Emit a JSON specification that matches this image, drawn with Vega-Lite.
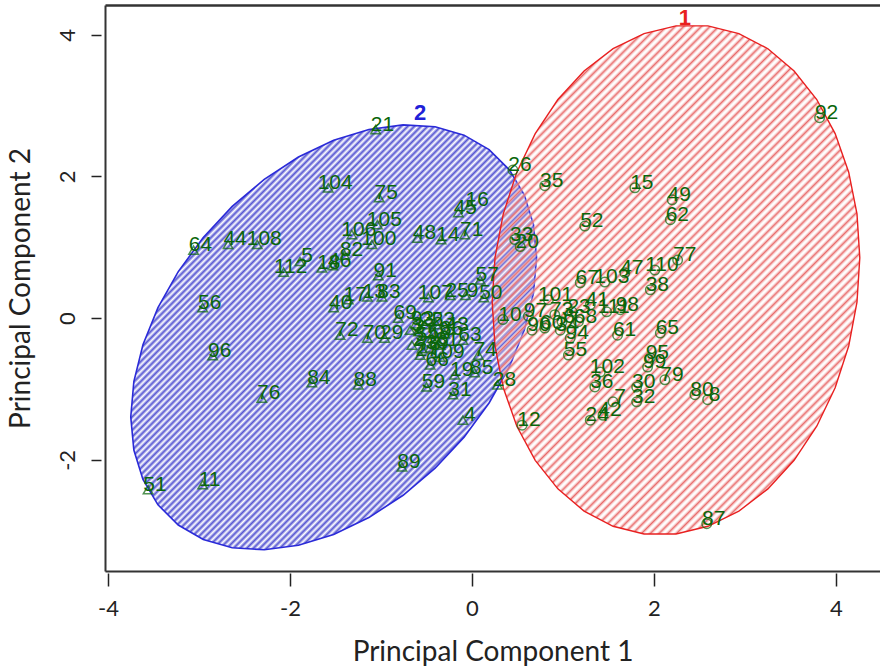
{
  "$schema": "https://vega.github.io/schema/vega-lite/v6.json",
  "width": 775,
  "height": 566,
  "autosize": "none",
  "padding": {"left": 105, "top": 5, "right": 0, "bottom": 99},
  "background": "white",
  "config": {"view": {"stroke": null}},
  "datasets": {
    "ell": [
      {"cl":"2","i":0,"x":0.71,"y":0.854},{"cl":"2","i":1,"x":0.676,"y":1.32},{"cl":"2","i":2,"x":0.576,"y":1.737},{"cl":"2","i":3,"x":0.411,"y":2.094},{"cl":"2","i":4,"x":0.188,"y":2.379},{"cl":"2","i":5,"x":-0.087,"y":2.583},{"cl":"2","i":6,"x":-0.405,"y":2.701},{"cl":"2","i":7,"x":-0.757,"y":2.728},{"cl":"2","i":8,"x":-1.133,"y":2.664},{"cl":"2","i":9,"x":-1.52,"y":2.512},{"cl":"2","i":10,"x":-1.907,"y":2.274},{"cl":"2","i":11,"x":-2.283,"y":1.959},{"cl":"2","i":12,"x":-2.635,"y":1.577},{"cl":"2","i":13,"x":-2.953,"y":1.139},{"cl":"2","i":14,"x":-3.228,"y":0.657},{"cl":"2","i":15,"x":-3.451,"y":0.148},{"cl":"2","i":16,"x":-3.616,"y":-0.375},{"cl":"2","i":17,"x":-3.716,"y":-0.894},{"cl":"2","i":18,"x":-3.75,"y":-1.394},{"cl":"2","i":19,"x":-3.716,"y":-1.86},{"cl":"2","i":20,"x":-3.616,"y":-2.277},{"cl":"2","i":21,"x":-3.451,"y":-2.634},{"cl":"2","i":22,"x":-3.228,"y":-2.919},{"cl":"2","i":23,"x":-2.953,"y":-3.123},{"cl":"2","i":24,"x":-2.635,"y":-3.241},{"cl":"2","i":25,"x":-2.283,"y":-3.268},{"cl":"2","i":26,"x":-1.907,"y":-3.204},{"cl":"2","i":27,"x":-1.52,"y":-3.052},{"cl":"2","i":28,"x":-1.133,"y":-2.814},{"cl":"2","i":29,"x":-0.757,"y":-2.499},{"cl":"2","i":30,"x":-0.405,"y":-2.117},{"cl":"2","i":31,"x":-0.087,"y":-1.679},{"cl":"2","i":32,"x":0.188,"y":-1.197},{"cl":"2","i":33,"x":0.411,"y":-0.688},{"cl":"2","i":34,"x":0.576,"y":-0.165},{"cl":"2","i":35,"x":0.676,"y":0.354},
      {"cl":"1","i":0,"x":4.262,"y":0.854},{"cl":"1","i":1,"x":4.231,"y":1.472},{"cl":"1","i":2,"x":4.14,"y":2.061},{"cl":"1","i":3,"x":3.991,"y":2.605},{"cl":"1","i":4,"x":3.789,"y":3.086},{"cl":"1","i":5,"x":3.54,"y":3.489},{"cl":"1","i":6,"x":3.252,"y":3.803},{"cl":"1","i":7,"x":2.933,"y":4.017},{"cl":"1","i":8,"x":2.593,"y":4.126},{"cl":"1","i":9,"x":2.242,"y":4.126},{"cl":"1","i":10,"x":1.891,"y":4.017},{"cl":"1","i":11,"x":1.551,"y":3.803},{"cl":"1","i":12,"x":1.232,"y":3.489},{"cl":"1","i":13,"x":0.944,"y":3.086},{"cl":"1","i":14,"x":0.695,"y":2.605},{"cl":"1","i":15,"x":0.493,"y":2.061},{"cl":"1","i":16,"x":0.344,"y":1.472},{"cl":"1","i":17,"x":0.253,"y":0.854},{"cl":"1","i":18,"x":0.222,"y":0.226},{"cl":"1","i":19,"x":0.253,"y":-0.392},{"cl":"1","i":20,"x":0.344,"y":-0.981},{"cl":"1","i":21,"x":0.493,"y":-1.525},{"cl":"1","i":22,"x":0.695,"y":-2.006},{"cl":"1","i":23,"x":0.944,"y":-2.409},{"cl":"1","i":24,"x":1.232,"y":-2.723},{"cl":"1","i":25,"x":1.551,"y":-2.937},{"cl":"1","i":26,"x":1.891,"y":-3.046},{"cl":"1","i":27,"x":2.242,"y":-3.046},{"cl":"1","i":28,"x":2.593,"y":-2.937},{"cl":"1","i":29,"x":2.933,"y":-2.723},{"cl":"1","i":30,"x":3.252,"y":-2.409},{"cl":"1","i":31,"x":3.54,"y":-2.006},{"cl":"1","i":32,"x":3.789,"y":-1.525},{"cl":"1","i":33,"x":3.991,"y":-0.981},{"cl":"1","i":34,"x":4.14,"y":-0.392},{"cl":"1","i":35,"x":4.231,"y":0.226}
    ],
    "pts": [
      {"id":"21","cl":"2","x":-1.06,"y":2.66},{"id":"104","cl":"2","x":-1.58,"y":1.84},{"id":"75","cl":"2","x":-1.02,"y":1.7},{"id":"64","cl":"2","x":-3.06,"y":0.96},{"id":"44","cl":"2","x":-2.68,"y":1.04},{"id":"108","cl":"2","x":-2.36,"y":1.04},{"id":"112","cl":"2","x":-2.07,"y":0.65},{"id":"5","cl":"2","x":-1.89,"y":0.8},{"id":"18","cl":"2","x":-1.65,"y":0.71},{"id":"46","cl":"2","x":-1.53,"y":0.74},{"id":"82","cl":"2","x":-1.4,"y":0.89},{"id":"106","cl":"2","x":-1.32,"y":1.18},{"id":"105","cl":"2","x":-1.04,"y":1.32},{"id":"100","cl":"2","x":-1.1,"y":1.04},{"id":"48","cl":"2","x":-0.6,"y":1.13},{"id":"14","cl":"2","x":-0.34,"y":1.11},{"id":"71","cl":"2","x":-0.08,"y":1.18},{"id":"45","cl":"2","x":-0.15,"y":1.49},{"id":"16","cl":"2","x":-0.02,"y":1.6},{"id":"91","cl":"2","x":-1.03,"y":0.6},{"id":"40","cl":"2","x":-1.52,"y":0.15},{"id":"17","cl":"2","x":-1.36,"y":0.26},{"id":"13","cl":"2","x":-1.15,"y":0.3},{"id":"83","cl":"2","x":-0.99,"y":0.3},{"id":"107","cl":"2","x":-0.48,"y":0.29},{"id":"25","cl":"2","x":-0.24,"y":0.32},{"id":"9","cl":"2","x":-0.07,"y":0.32},{"id":"50","cl":"2","x":0.13,"y":0.29},{"id":"57","cl":"2","x":0.09,"y":0.54},{"id":"72","cl":"2","x":-1.45,"y":-0.24},{"id":"70","cl":"2","x":-1.15,"y":-0.28},{"id":"29","cl":"2","x":-0.96,"y":-0.28},{"id":"69","cl":"2","x":-0.81,"y":0.0},{"id":"3","cl":"2","x":-0.68,"y":-0.17},{"id":"54","cl":"2","x":-0.57,"y":-0.31},{"id":"43","cl":"2","x":-0.24,"y":-0.17},{"id":"63","cl":"2","x":-0.1,"y":-0.31},{"id":"39","cl":"2","x":-0.46,"y":-0.42},{"id":"27","cl":"2","x":-0.57,"y":-0.52},{"id":"81","cl":"2","x":-0.35,"y":-0.38},{"id":"2","cl":"2","x":-0.66,"y":-0.38},{"id":"22","cl":"2","x":-0.52,"y":-0.09},{"id":"53","cl":"2","x":-0.39,"y":-0.09},{"id":"66","cl":"2","x":-0.46,"y":-0.66},{"id":"74","cl":"2","x":0.07,"y":-0.52},{"id":"85","cl":"2","x":0.03,"y":-0.77},{"id":"19","cl":"2","x":-0.19,"y":-0.8},{"id":"59","cl":"2","x":-0.5,"y":-0.97},{"id":"31","cl":"2","x":-0.21,"y":-1.08},{"id":"28","cl":"2","x":0.28,"y":-0.94},{"id":"4","cl":"2","x":-0.1,"y":-1.44},{"id":"89","cl":"2","x":-0.77,"y":-2.1},{"id":"88","cl":"2","x":-1.25,"y":-0.94},{"id":"84","cl":"2","x":-1.76,"y":-0.91},{"id":"76","cl":"2","x":-2.31,"y":-1.13},{"id":"96","cl":"2","x":-2.85,"y":-0.53},{"id":"56","cl":"2","x":-2.96,"y":0.15},{"id":"51","cl":"2","x":-3.56,"y":-2.42},{"id":"11","cl":"2","x":-2.96,"y":-2.35},{"id":"37","cl":"2","x":-0.59,"y":-0.19},{"id":"58","cl":"2","x":-0.44,"y":-0.28},{"id":"78","cl":"2","x":-0.55,"y":-0.43},{"id":"86","cl":"2","x":-0.3,"y":-0.22},{"id":"93","cl":"2","x":-0.62,"y":-0.08},{"id":"109","cl":"2","x":-0.35,"y":-0.55},
      {"id":"92","cl":"1","x":3.82,"y":2.83},{"id":"87","cl":"1","x":2.58,"y":-2.9},{"id":"35","cl":"1","x":0.8,"y":1.87},{"id":"15","cl":"1","x":1.79,"y":1.84},{"id":"49","cl":"1","x":2.2,"y":1.67},{"id":"62","cl":"1","x":2.18,"y":1.39},{"id":"52","cl":"1","x":1.24,"y":1.3},{"id":"77","cl":"1","x":2.26,"y":0.82},{"id":"47","cl":"1","x":1.68,"y":0.64},{"id":"110","cl":"1","x":2.01,"y":0.68},{"id":"38","cl":"1","x":1.96,"y":0.4},{"id":"103","cl":"1","x":1.46,"y":0.51},{"id":"67","cl":"1","x":1.19,"y":0.5},{"id":"101","cl":"1","x":0.84,"y":0.26},{"id":"41","cl":"1","x":1.3,"y":0.19},{"id":"98","cl":"1","x":1.63,"y":0.12},{"id":"111","cl":"1","x":1.48,"y":0.09},{"id":"61","cl":"1","x":1.6,"y":-0.24},{"id":"65","cl":"1","x":2.07,"y":-0.21},{"id":"94","cl":"1","x":1.08,"y":-0.28},{"id":"55","cl":"1","x":1.06,"y":-0.52},{"id":"102","cl":"1","x":1.41,"y":-0.76},{"id":"95","cl":"1","x":1.96,"y":-0.56},{"id":"99","cl":"1","x":1.93,"y":-0.69},{"id":"79","cl":"1","x":2.12,"y":-0.87},{"id":"36","cl":"1","x":1.35,"y":-0.97},{"id":"30","cl":"1","x":1.81,"y":-0.97},{"id":"32","cl":"1","x":1.81,"y":-1.18},{"id":"7","cl":"1","x":1.55,"y":-1.18},{"id":"24","cl":"1","x":1.3,"y":-1.44},{"id":"42","cl":"1","x":1.44,"y":-1.37},{"id":"80","cl":"1","x":2.45,"y":-1.08},{"id":"8","cl":"1","x":2.59,"y":-1.15},{"id":"12","cl":"1","x":0.55,"y":-1.51},{"id":"26","cl":"1","x":0.45,"y":2.09},{"id":"33","cl":"1","x":0.47,"y":1.11},{"id":"20","cl":"1","x":0.53,"y":1.01},{"id":"10","cl":"1","x":0.34,"y":-0.02},{"id":"97","cl":"1","x":0.62,"y":0.03},{"id":"90","cl":"1","x":0.66,"y":-0.17},{"id":"60","cl":"1","x":0.8,"y":-0.14},{"id":"73","cl":"1","x":0.91,"y":0.05},{"id":"6","cl":"1","x":0.99,"y":-0.05},{"id":"23","cl":"1","x":1.1,"y":0.09},{"id":"34","cl":"1","x":0.97,"y":-0.17},{"id":"68","cl":"1","x":1.17,"y":-0.05}
    ],
    "clab": [
      {"cl":"2","x":-0.57,"y":2.9},
      {"cl":"1","x":2.34,"y":4.24}
    ]
  },
  "resolve": {"axis": {"x": "independent", "y": "independent"}},
  "layer": [
    {
      "data": {"name": "ell"},
      "transform": [{"filter": "datum.cl == '2'"}],
      "mark": {"type": "line", "interpolate": "linear-closed", "stroke": "#2a2ad8", "strokeWidth": 1.6,
        "fill": {"gradient": "linear", "x1": 0, "y1": 0, "x2": 0.98, "y2": 1.02, "stops": [
          {"offset":0,"color":"#5656d2"},{"offset":0.004,"color":"#fff"},{"offset":0.008,"color":"#5656d2"},{"offset":0.012,"color":"#fff"},{"offset":0.016,"color":"#5656d2"},{"offset":0.02,"color":"#fff"},{"offset":0.024,"color":"#5656d2"},{"offset":0.028,"color":"#fff"},{"offset":0.032,"color":"#5656d2"},{"offset":0.036,"color":"#fff"},
          {"offset":0.04,"color":"#5656d2"},{"offset":0.044,"color":"#fff"},{"offset":0.048,"color":"#5656d2"},{"offset":0.052,"color":"#fff"},{"offset":0.056,"color":"#5656d2"},{"offset":0.06,"color":"#fff"},{"offset":0.064,"color":"#5656d2"},{"offset":0.068,"color":"#fff"},{"offset":0.072,"color":"#5656d2"},{"offset":0.076,"color":"#fff"},
          {"offset":0.08,"color":"#5656d2"},{"offset":0.084,"color":"#fff"},{"offset":0.088,"color":"#5656d2"},{"offset":0.092,"color":"#fff"},{"offset":0.096,"color":"#5656d2"},{"offset":0.1,"color":"#fff"},{"offset":0.104,"color":"#5656d2"},{"offset":0.108,"color":"#fff"},{"offset":0.112,"color":"#5656d2"},{"offset":0.116,"color":"#fff"},
          {"offset":0.12,"color":"#5656d2"},{"offset":0.124,"color":"#fff"},{"offset":0.128,"color":"#5656d2"},{"offset":0.132,"color":"#fff"},{"offset":0.136,"color":"#5656d2"},{"offset":0.14,"color":"#fff"},{"offset":0.144,"color":"#5656d2"},{"offset":0.148,"color":"#fff"},{"offset":0.152,"color":"#5656d2"},{"offset":0.156,"color":"#fff"},
          {"offset":0.16,"color":"#5656d2"},{"offset":0.164,"color":"#fff"},{"offset":0.168,"color":"#5656d2"},{"offset":0.172,"color":"#fff"},{"offset":0.176,"color":"#5656d2"},{"offset":0.18,"color":"#fff"},{"offset":0.184,"color":"#5656d2"},{"offset":0.188,"color":"#fff"},{"offset":0.192,"color":"#5656d2"},{"offset":0.196,"color":"#fff"},
          {"offset":0.2,"color":"#5656d2"},{"offset":0.204,"color":"#fff"},{"offset":0.208,"color":"#5656d2"},{"offset":0.212,"color":"#fff"},{"offset":0.216,"color":"#5656d2"},{"offset":0.22,"color":"#fff"},{"offset":0.224,"color":"#5656d2"},{"offset":0.228,"color":"#fff"},{"offset":0.232,"color":"#5656d2"},{"offset":0.236,"color":"#fff"},
          {"offset":0.24,"color":"#5656d2"},{"offset":0.244,"color":"#fff"},{"offset":0.248,"color":"#5656d2"},{"offset":0.252,"color":"#fff"},{"offset":0.256,"color":"#5656d2"},{"offset":0.26,"color":"#fff"},{"offset":0.264,"color":"#5656d2"},{"offset":0.268,"color":"#fff"},{"offset":0.272,"color":"#5656d2"},{"offset":0.276,"color":"#fff"},
          {"offset":0.28,"color":"#5656d2"},{"offset":0.284,"color":"#fff"},{"offset":0.288,"color":"#5656d2"},{"offset":0.292,"color":"#fff"},{"offset":0.296,"color":"#5656d2"},{"offset":0.3,"color":"#fff"},{"offset":0.304,"color":"#5656d2"},{"offset":0.308,"color":"#fff"},{"offset":0.312,"color":"#5656d2"},{"offset":0.316,"color":"#fff"},
          {"offset":0.32,"color":"#5656d2"},{"offset":0.324,"color":"#fff"},{"offset":0.328,"color":"#5656d2"},{"offset":0.332,"color":"#fff"},{"offset":0.336,"color":"#5656d2"},{"offset":0.34,"color":"#fff"},{"offset":0.344,"color":"#5656d2"},{"offset":0.348,"color":"#fff"},{"offset":0.352,"color":"#5656d2"},{"offset":0.356,"color":"#fff"},
          {"offset":0.36,"color":"#5656d2"},{"offset":0.364,"color":"#fff"},{"offset":0.368,"color":"#5656d2"},{"offset":0.372,"color":"#fff"},{"offset":0.376,"color":"#5656d2"},{"offset":0.38,"color":"#fff"},{"offset":0.384,"color":"#5656d2"},{"offset":0.388,"color":"#fff"},{"offset":0.392,"color":"#5656d2"},{"offset":0.396,"color":"#fff"},
          {"offset":0.4,"color":"#5656d2"},{"offset":0.404,"color":"#fff"},{"offset":0.408,"color":"#5656d2"},{"offset":0.412,"color":"#fff"},{"offset":0.416,"color":"#5656d2"},{"offset":0.42,"color":"#fff"},{"offset":0.424,"color":"#5656d2"},{"offset":0.428,"color":"#fff"},{"offset":0.432,"color":"#5656d2"},{"offset":0.436,"color":"#fff"},
          {"offset":0.44,"color":"#5656d2"},{"offset":0.444,"color":"#fff"},{"offset":0.448,"color":"#5656d2"},{"offset":0.452,"color":"#fff"},{"offset":0.456,"color":"#5656d2"},{"offset":0.46,"color":"#fff"},{"offset":0.464,"color":"#5656d2"},{"offset":0.468,"color":"#fff"},{"offset":0.472,"color":"#5656d2"},{"offset":0.476,"color":"#fff"},
          {"offset":0.48,"color":"#5656d2"},{"offset":0.484,"color":"#fff"},{"offset":0.488,"color":"#5656d2"},{"offset":0.492,"color":"#fff"},{"offset":0.496,"color":"#5656d2"},{"offset":0.5,"color":"#fff"},{"offset":0.504,"color":"#5656d2"},{"offset":0.508,"color":"#fff"},{"offset":0.512,"color":"#5656d2"},{"offset":0.516,"color":"#fff"},
          {"offset":0.52,"color":"#5656d2"},{"offset":0.524,"color":"#fff"},{"offset":0.528,"color":"#5656d2"},{"offset":0.532,"color":"#fff"},{"offset":0.536,"color":"#5656d2"},{"offset":0.54,"color":"#fff"},{"offset":0.544,"color":"#5656d2"},{"offset":0.548,"color":"#fff"},{"offset":0.552,"color":"#5656d2"},{"offset":0.556,"color":"#fff"},
          {"offset":0.56,"color":"#5656d2"},{"offset":0.564,"color":"#fff"},{"offset":0.568,"color":"#5656d2"},{"offset":0.572,"color":"#fff"},{"offset":0.576,"color":"#5656d2"},{"offset":0.58,"color":"#fff"},{"offset":0.584,"color":"#5656d2"},{"offset":0.588,"color":"#fff"},{"offset":0.592,"color":"#5656d2"},{"offset":0.596,"color":"#fff"},
          {"offset":0.6,"color":"#5656d2"},{"offset":0.604,"color":"#fff"},{"offset":0.608,"color":"#5656d2"},{"offset":0.612,"color":"#fff"},{"offset":0.616,"color":"#5656d2"},{"offset":0.62,"color":"#fff"},{"offset":0.624,"color":"#5656d2"},{"offset":0.628,"color":"#fff"},{"offset":0.632,"color":"#5656d2"},{"offset":0.636,"color":"#fff"},
          {"offset":0.64,"color":"#5656d2"},{"offset":0.644,"color":"#fff"},{"offset":0.648,"color":"#5656d2"},{"offset":0.652,"color":"#fff"},{"offset":0.656,"color":"#5656d2"},{"offset":0.66,"color":"#fff"},{"offset":0.664,"color":"#5656d2"},{"offset":0.668,"color":"#fff"},{"offset":0.672,"color":"#5656d2"},{"offset":0.676,"color":"#fff"},
          {"offset":0.68,"color":"#5656d2"},{"offset":0.684,"color":"#fff"},{"offset":0.688,"color":"#5656d2"},{"offset":0.692,"color":"#fff"},{"offset":0.696,"color":"#5656d2"},{"offset":0.7,"color":"#fff"},{"offset":0.704,"color":"#5656d2"},{"offset":0.708,"color":"#fff"},{"offset":0.712,"color":"#5656d2"},{"offset":0.716,"color":"#fff"},
          {"offset":0.72,"color":"#5656d2"},{"offset":0.724,"color":"#fff"},{"offset":0.728,"color":"#5656d2"},{"offset":0.732,"color":"#fff"},{"offset":0.736,"color":"#5656d2"},{"offset":0.74,"color":"#fff"},{"offset":0.744,"color":"#5656d2"},{"offset":0.748,"color":"#fff"},{"offset":0.752,"color":"#5656d2"},{"offset":0.756,"color":"#fff"},
          {"offset":0.76,"color":"#5656d2"},{"offset":0.764,"color":"#fff"},{"offset":0.768,"color":"#5656d2"},{"offset":0.772,"color":"#fff"},{"offset":0.776,"color":"#5656d2"},{"offset":0.78,"color":"#fff"},{"offset":0.784,"color":"#5656d2"},{"offset":0.788,"color":"#fff"},{"offset":0.792,"color":"#5656d2"},{"offset":0.796,"color":"#fff"},
          {"offset":0.8,"color":"#5656d2"},{"offset":0.804,"color":"#fff"},{"offset":0.808,"color":"#5656d2"},{"offset":0.812,"color":"#fff"},{"offset":0.816,"color":"#5656d2"},{"offset":0.82,"color":"#fff"},{"offset":0.824,"color":"#5656d2"},{"offset":0.828,"color":"#fff"},{"offset":0.832,"color":"#5656d2"},{"offset":0.836,"color":"#fff"},
          {"offset":0.84,"color":"#5656d2"},{"offset":0.844,"color":"#fff"},{"offset":0.848,"color":"#5656d2"},{"offset":0.852,"color":"#fff"},{"offset":0.856,"color":"#5656d2"},{"offset":0.86,"color":"#fff"},{"offset":0.864,"color":"#5656d2"},{"offset":0.868,"color":"#fff"},{"offset":0.872,"color":"#5656d2"},{"offset":0.876,"color":"#fff"},
          {"offset":0.88,"color":"#5656d2"},{"offset":0.884,"color":"#fff"},{"offset":0.888,"color":"#5656d2"},{"offset":0.892,"color":"#fff"},{"offset":0.896,"color":"#5656d2"},{"offset":0.9,"color":"#fff"},{"offset":0.904,"color":"#5656d2"},{"offset":0.908,"color":"#fff"},{"offset":0.912,"color":"#5656d2"},{"offset":0.916,"color":"#fff"},
          {"offset":0.92,"color":"#5656d2"},{"offset":0.924,"color":"#fff"},{"offset":0.928,"color":"#5656d2"},{"offset":0.932,"color":"#fff"},{"offset":0.936,"color":"#5656d2"},{"offset":0.94,"color":"#fff"},{"offset":0.944,"color":"#5656d2"},{"offset":0.948,"color":"#fff"},{"offset":0.952,"color":"#5656d2"},{"offset":0.956,"color":"#fff"},
          {"offset":0.96,"color":"#5656d2"},{"offset":0.964,"color":"#fff"},{"offset":0.968,"color":"#5656d2"},{"offset":0.972,"color":"#fff"},{"offset":0.976,"color":"#5656d2"},{"offset":0.98,"color":"#fff"},{"offset":0.984,"color":"#5656d2"},{"offset":0.988,"color":"#fff"},{"offset":0.992,"color":"#5656d2"},{"offset":0.996,"color":"#fff"},
          {"offset":1,"color":"#5656d2"}
        ]}},
      "encoding": {
        "x": {"field": "x", "type": "quantitative", "scale": {"domain": [-4.033, 4.484], "nice": false, "zero": false},
              "axis": {"orient": "bottom", "domain": true, "domainColor": "#333", "domainWidth": 2, "ticks": false, "labels": false, "title": null, "grid": false}},
        "y": {"field": "y", "type": "quantitative", "scale": {"domain": [-3.568, 4.42], "nice": false, "zero": false},
              "axis": {"orient": "left", "domain": true, "domainColor": "#333", "domainWidth": 2, "ticks": false, "labels": false, "title": null, "grid": false}},
        "order": {"field": "i", "type": "quantitative"}
      }
    },
    {
      "data": {"name": "ell"},
      "transform": [{"filter": "datum.cl == '1'"}],
      "mark": {"type": "line", "interpolate": "linear-closed", "stroke": "#e82020", "strokeWidth": 1.4,
        "fill": {"gradient": "linear", "x1": 0, "y1": 0, "x2": 0.82, "y2": 1.13, "stops": [
          {"offset":0,"color":"#e86a6a"},{"offset":0.005,"color":"rgba(255,255,255,0)"},{"offset":0.01,"color":"#e86a6a"},{"offset":0.015,"color":"rgba(255,255,255,0)"},{"offset":0.02,"color":"#e86a6a"},{"offset":0.025,"color":"rgba(255,255,255,0)"},{"offset":0.03,"color":"#e86a6a"},{"offset":0.035,"color":"rgba(255,255,255,0)"},{"offset":0.04,"color":"#e86a6a"},{"offset":0.045,"color":"rgba(255,255,255,0)"},
          {"offset":0.05,"color":"#e86a6a"},{"offset":0.055,"color":"rgba(255,255,255,0)"},{"offset":0.06,"color":"#e86a6a"},{"offset":0.065,"color":"rgba(255,255,255,0)"},{"offset":0.07,"color":"#e86a6a"},{"offset":0.075,"color":"rgba(255,255,255,0)"},{"offset":0.08,"color":"#e86a6a"},{"offset":0.085,"color":"rgba(255,255,255,0)"},{"offset":0.09,"color":"#e86a6a"},{"offset":0.095,"color":"rgba(255,255,255,0)"},
          {"offset":0.1,"color":"#e86a6a"},{"offset":0.105,"color":"rgba(255,255,255,0)"},{"offset":0.11,"color":"#e86a6a"},{"offset":0.115,"color":"rgba(255,255,255,0)"},{"offset":0.12,"color":"#e86a6a"},{"offset":0.125,"color":"rgba(255,255,255,0)"},{"offset":0.13,"color":"#e86a6a"},{"offset":0.135,"color":"rgba(255,255,255,0)"},{"offset":0.14,"color":"#e86a6a"},{"offset":0.145,"color":"rgba(255,255,255,0)"},
          {"offset":0.15,"color":"#e86a6a"},{"offset":0.155,"color":"rgba(255,255,255,0)"},{"offset":0.16,"color":"#e86a6a"},{"offset":0.165,"color":"rgba(255,255,255,0)"},{"offset":0.17,"color":"#e86a6a"},{"offset":0.175,"color":"rgba(255,255,255,0)"},{"offset":0.18,"color":"#e86a6a"},{"offset":0.185,"color":"rgba(255,255,255,0)"},{"offset":0.19,"color":"#e86a6a"},{"offset":0.195,"color":"rgba(255,255,255,0)"},
          {"offset":0.2,"color":"#e86a6a"},{"offset":0.205,"color":"rgba(255,255,255,0)"},{"offset":0.21,"color":"#e86a6a"},{"offset":0.215,"color":"rgba(255,255,255,0)"},{"offset":0.22,"color":"#e86a6a"},{"offset":0.225,"color":"rgba(255,255,255,0)"},{"offset":0.23,"color":"#e86a6a"},{"offset":0.235,"color":"rgba(255,255,255,0)"},{"offset":0.24,"color":"#e86a6a"},{"offset":0.245,"color":"rgba(255,255,255,0)"},
          {"offset":0.25,"color":"#e86a6a"},{"offset":0.255,"color":"rgba(255,255,255,0)"},{"offset":0.26,"color":"#e86a6a"},{"offset":0.265,"color":"rgba(255,255,255,0)"},{"offset":0.27,"color":"#e86a6a"},{"offset":0.275,"color":"rgba(255,255,255,0)"},{"offset":0.28,"color":"#e86a6a"},{"offset":0.285,"color":"rgba(255,255,255,0)"},{"offset":0.29,"color":"#e86a6a"},{"offset":0.295,"color":"rgba(255,255,255,0)"},
          {"offset":0.3,"color":"#e86a6a"},{"offset":0.305,"color":"rgba(255,255,255,0)"},{"offset":0.31,"color":"#e86a6a"},{"offset":0.315,"color":"rgba(255,255,255,0)"},{"offset":0.32,"color":"#e86a6a"},{"offset":0.325,"color":"rgba(255,255,255,0)"},{"offset":0.33,"color":"#e86a6a"},{"offset":0.335,"color":"rgba(255,255,255,0)"},{"offset":0.34,"color":"#e86a6a"},{"offset":0.345,"color":"rgba(255,255,255,0)"},
          {"offset":0.35,"color":"#e86a6a"},{"offset":0.355,"color":"rgba(255,255,255,0)"},{"offset":0.36,"color":"#e86a6a"},{"offset":0.365,"color":"rgba(255,255,255,0)"},{"offset":0.37,"color":"#e86a6a"},{"offset":0.375,"color":"rgba(255,255,255,0)"},{"offset":0.38,"color":"#e86a6a"},{"offset":0.385,"color":"rgba(255,255,255,0)"},{"offset":0.39,"color":"#e86a6a"},{"offset":0.395,"color":"rgba(255,255,255,0)"},
          {"offset":0.4,"color":"#e86a6a"},{"offset":0.405,"color":"rgba(255,255,255,0)"},{"offset":0.41,"color":"#e86a6a"},{"offset":0.415,"color":"rgba(255,255,255,0)"},{"offset":0.42,"color":"#e86a6a"},{"offset":0.425,"color":"rgba(255,255,255,0)"},{"offset":0.43,"color":"#e86a6a"},{"offset":0.435,"color":"rgba(255,255,255,0)"},{"offset":0.44,"color":"#e86a6a"},{"offset":0.445,"color":"rgba(255,255,255,0)"},
          {"offset":0.45,"color":"#e86a6a"},{"offset":0.455,"color":"rgba(255,255,255,0)"},{"offset":0.46,"color":"#e86a6a"},{"offset":0.465,"color":"rgba(255,255,255,0)"},{"offset":0.47,"color":"#e86a6a"},{"offset":0.475,"color":"rgba(255,255,255,0)"},{"offset":0.48,"color":"#e86a6a"},{"offset":0.485,"color":"rgba(255,255,255,0)"},{"offset":0.49,"color":"#e86a6a"},{"offset":0.495,"color":"rgba(255,255,255,0)"},
          {"offset":0.5,"color":"#e86a6a"},{"offset":0.505,"color":"rgba(255,255,255,0)"},{"offset":0.51,"color":"#e86a6a"},{"offset":0.515,"color":"rgba(255,255,255,0)"},{"offset":0.52,"color":"#e86a6a"},{"offset":0.525,"color":"rgba(255,255,255,0)"},{"offset":0.53,"color":"#e86a6a"},{"offset":0.535,"color":"rgba(255,255,255,0)"},{"offset":0.54,"color":"#e86a6a"},{"offset":0.545,"color":"rgba(255,255,255,0)"},
          {"offset":0.55,"color":"#e86a6a"},{"offset":0.555,"color":"rgba(255,255,255,0)"},{"offset":0.56,"color":"#e86a6a"},{"offset":0.565,"color":"rgba(255,255,255,0)"},{"offset":0.57,"color":"#e86a6a"},{"offset":0.575,"color":"rgba(255,255,255,0)"},{"offset":0.58,"color":"#e86a6a"},{"offset":0.585,"color":"rgba(255,255,255,0)"},{"offset":0.59,"color":"#e86a6a"},{"offset":0.595,"color":"rgba(255,255,255,0)"},
          {"offset":0.6,"color":"#e86a6a"},{"offset":0.605,"color":"rgba(255,255,255,0)"},{"offset":0.61,"color":"#e86a6a"},{"offset":0.615,"color":"rgba(255,255,255,0)"},{"offset":0.62,"color":"#e86a6a"},{"offset":0.625,"color":"rgba(255,255,255,0)"},{"offset":0.63,"color":"#e86a6a"},{"offset":0.635,"color":"rgba(255,255,255,0)"},{"offset":0.64,"color":"#e86a6a"},{"offset":0.645,"color":"rgba(255,255,255,0)"},
          {"offset":0.65,"color":"#e86a6a"},{"offset":0.655,"color":"rgba(255,255,255,0)"},{"offset":0.66,"color":"#e86a6a"},{"offset":0.665,"color":"rgba(255,255,255,0)"},{"offset":0.67,"color":"#e86a6a"},{"offset":0.675,"color":"rgba(255,255,255,0)"},{"offset":0.68,"color":"#e86a6a"},{"offset":0.685,"color":"rgba(255,255,255,0)"},{"offset":0.69,"color":"#e86a6a"},{"offset":0.695,"color":"rgba(255,255,255,0)"},
          {"offset":0.7,"color":"#e86a6a"},{"offset":0.705,"color":"rgba(255,255,255,0)"},{"offset":0.71,"color":"#e86a6a"},{"offset":0.715,"color":"rgba(255,255,255,0)"},{"offset":0.72,"color":"#e86a6a"},{"offset":0.725,"color":"rgba(255,255,255,0)"},{"offset":0.73,"color":"#e86a6a"},{"offset":0.735,"color":"rgba(255,255,255,0)"},{"offset":0.74,"color":"#e86a6a"},{"offset":0.745,"color":"rgba(255,255,255,0)"},
          {"offset":0.75,"color":"#e86a6a"},{"offset":0.755,"color":"rgba(255,255,255,0)"},{"offset":0.76,"color":"#e86a6a"},{"offset":0.765,"color":"rgba(255,255,255,0)"},{"offset":0.77,"color":"#e86a6a"},{"offset":0.775,"color":"rgba(255,255,255,0)"},{"offset":0.78,"color":"#e86a6a"},{"offset":0.785,"color":"rgba(255,255,255,0)"},{"offset":0.79,"color":"#e86a6a"},{"offset":0.795,"color":"rgba(255,255,255,0)"},
          {"offset":0.8,"color":"#e86a6a"},{"offset":0.805,"color":"rgba(255,255,255,0)"},{"offset":0.81,"color":"#e86a6a"},{"offset":0.815,"color":"rgba(255,255,255,0)"},{"offset":0.82,"color":"#e86a6a"},{"offset":0.825,"color":"rgba(255,255,255,0)"},{"offset":0.83,"color":"#e86a6a"},{"offset":0.835,"color":"rgba(255,255,255,0)"},{"offset":0.84,"color":"#e86a6a"},{"offset":0.845,"color":"rgba(255,255,255,0)"},
          {"offset":0.85,"color":"#e86a6a"},{"offset":0.855,"color":"rgba(255,255,255,0)"},{"offset":0.86,"color":"#e86a6a"},{"offset":0.865,"color":"rgba(255,255,255,0)"},{"offset":0.87,"color":"#e86a6a"},{"offset":0.875,"color":"rgba(255,255,255,0)"},{"offset":0.88,"color":"#e86a6a"},{"offset":0.885,"color":"rgba(255,255,255,0)"},{"offset":0.89,"color":"#e86a6a"},{"offset":0.895,"color":"rgba(255,255,255,0)"},
          {"offset":0.9,"color":"#e86a6a"},{"offset":0.905,"color":"rgba(255,255,255,0)"},{"offset":0.91,"color":"#e86a6a"},{"offset":0.915,"color":"rgba(255,255,255,0)"},{"offset":0.92,"color":"#e86a6a"},{"offset":0.925,"color":"rgba(255,255,255,0)"},{"offset":0.93,"color":"#e86a6a"},{"offset":0.935,"color":"rgba(255,255,255,0)"},{"offset":0.94,"color":"#e86a6a"},{"offset":0.945,"color":"rgba(255,255,255,0)"},
          {"offset":0.95,"color":"#e86a6a"},{"offset":0.955,"color":"rgba(255,255,255,0)"},{"offset":0.96,"color":"#e86a6a"},{"offset":0.965,"color":"rgba(255,255,255,0)"},{"offset":0.97,"color":"#e86a6a"},{"offset":0.975,"color":"rgba(255,255,255,0)"},{"offset":0.98,"color":"#e86a6a"},{"offset":0.985,"color":"rgba(255,255,255,0)"},{"offset":0.99,"color":"#e86a6a"},{"offset":0.995,"color":"rgba(255,255,255,0)"},
          {"offset":1,"color":"#e86a6a"}
        ]}},
      "encoding": {
        "x": {"field": "x", "type": "quantitative", "scale": {"domain": [-4.033, 4.484], "nice": false, "zero": false},
              "axis": {"orient": "top", "domain": true, "domainColor": "#333", "domainWidth": 2.5, "ticks": false, "labels": false, "title": null, "grid": false}},
        "y": {"field": "y", "type": "quantitative", "scale": {"domain": [-3.568, 4.42], "nice": false, "zero": false}, "axis": null},
        "order": {"field": "i", "type": "quantitative"}
      }
    },
    {
      "data": {"name": "pts"},
      "mark": {"type": "point", "filled": false, "stroke": "#0a660a", "strokeWidth": 1.5, "size": 90},
      "encoding": {
        "x": {"field": "x", "type": "quantitative", "scale": {"domain": [-4.033, 4.484], "nice": false, "zero": false},
              "axis": {"orient": "bottom", "values": [-4, -2, 0, 2, 4], "domain": false, "offset": 2, "tickSize": 13, "tickWidth": 1.5, "tickColor": "#222", "grid": false,
                       "labelExpr": "'' + datum.value",
                       "labelFont": "Lato", "labelFontSize": 22, "labelColor": "#222", "labelPadding": 12, "labelFlush": false, "labelOverlap": false,
                       "title": "Principal Component 1", "titleFont": "Lato", "titleFontSize": 28, "titleFontWeight": "normal", "titleColor": "#222", "titlePadding": 19}},
        "y": {"field": "y", "type": "quantitative", "scale": {"domain": [-3.568, 4.42], "nice": false, "zero": false},
              "axis": {"orient": "left", "values": [-2, 0, 2, 4], "domain": false, "offset": 4, "tickSize": 10, "tickWidth": 1.5, "tickColor": "#222", "grid": false,
                       "labelExpr": "'' + datum.value",
                       "labelFont": "Lato", "labelFontSize": 22, "labelColor": "#222", "labelAngle": -90, "labelPadding": 12, "labelFlush": false, "labelOverlap": false,
                       "title": "Principal Component 2", "titleFont": "Lato", "titleFontSize": 28, "titleFontWeight": "normal", "titleColor": "#222", "titlePadding": 21}},
        "shape": {"field": "cl", "type": "nominal", "scale": {"domain": ["1", "2"], "range": ["circle", "triangle-up"]}, "legend": null}
      }
    },
    {
      "data": {"name": "pts"},
      "mark": {"type": "text", "font": "Liberation Sans", "fontSize": 21, "color": "#0a660a", "dx": 7, "dy": -5},
      "encoding": {
        "x": {"field": "x", "type": "quantitative", "scale": {"domain": [-4.033, 4.484], "nice": false, "zero": false}, "axis": null},
        "y": {"field": "y", "type": "quantitative", "scale": {"domain": [-3.568, 4.42], "nice": false, "zero": false}, "axis": null},
        "text": {"field": "id", "type": "nominal"}
      }
    },
    {
      "data": {"name": "clab"},
      "mark": {"type": "text", "font": "Liberation Sans", "fontSize": 22, "fontWeight": "bold"},
      "encoding": {
        "x": {"field": "x", "type": "quantitative", "scale": {"domain": [-4.033, 4.484], "nice": false, "zero": false}, "axis": null},
        "y": {"field": "y", "type": "quantitative", "scale": {"domain": [-3.568, 4.42], "nice": false, "zero": false}, "axis": null},
        "text": {"field": "cl", "type": "nominal"},
        "color": {"field": "cl", "type": "nominal", "scale": {"domain": ["1", "2"], "range": ["#e82020", "#2020d8"]}, "legend": null},
        "fontStyle": {"condition": {"test": "datum.cl == '1'", "value": "italic"}, "value": "normal"}
      }
    }
  ]
}
